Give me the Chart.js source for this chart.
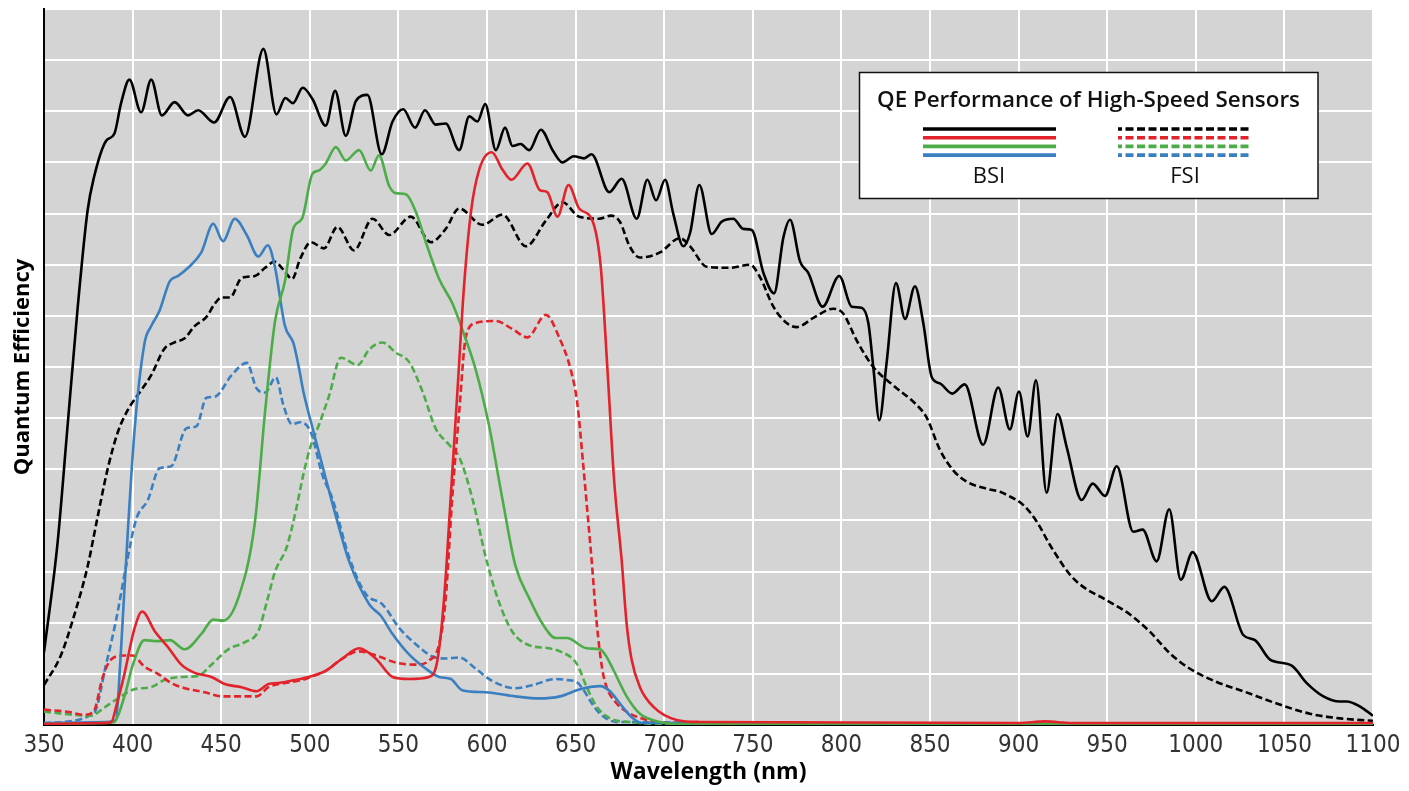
<!DOCTYPE html>
<html>
<head>
<meta charset="utf-8">
<script src="https://cdn.jsdelivr.net/npm/chart.js@4.4.1/dist/chart.umd.min.js"></script>
<style>
  html, body { margin: 0; padding: 0; background: #fff; }
  #wrap { width: 1409px; height: 791px; }
</style>
</head>
<body>
<div id="wrap"><canvas id="qeChart" width="1409" height="791"></canvas></div>
<script>
// wavelength (nm) / quantum efficiency (%) pairs
const bsiBlack = [
  [350, 7.1], [357.6, 17.7], [363, 28.6], [369, 40.8], [374.6, 50.3], [378, 53.4], [385, 57.1],
  [389.7, 57.8], [393.5, 60.8], [398.2, 63.1], [404.8, 59.9], [410.5, 63.1], [416.5, 59.6],
  [423.7, 60.9], [431.3, 59.6], [437, 60.1], [446, 58.9], [455, 61.4], [463.4, 57.5],
  [473.8, 66.1], [481.2, 59.7], [486.2, 61.3], [490.5, 60.8], [496, 62.3], [501.5, 61.2],
  [509, 58.6], [514.3, 62.0], [520.3, 57.6], [526, 61.0], [532.5, 61.6], [540.6, 55.8],
  [546.7, 59.0], [552.7, 60.2], [559.4, 58.4], [565, 60.1], [571, 58.7], [576.7, 58.8],
  [584.3, 56.2], [590, 59.5], [594.6, 59.0], [599, 60.7], [605, 56.2], [610.2, 58.4],
  [614.4, 56.6], [619, 56.8], [623.8, 56.2], [630.4, 58.2], [637, 56.2], [642.6, 55.0],
  [649, 55.6], [654.8, 55.4], [659, 55.8], [669, 52.1], [676, 53.4], [684.5, 49.5],
  [690.5, 53.3], [695.4, 51.3], [700.5, 53.3], [705.1, 50.0], [710.8, 46.8], [714.6, 48.1],
  [719.8, 52.8], [726.8, 48.0], [732.4, 49.2], [739, 49.5], [744.6, 48.5], [749.4, 48.4],
  [756, 44.2], [762, 42.2], [767.3, 47.7], [771, 49.4], [776.7, 45.3], [781.3, 44.2],
  [789.4, 40.9], [798.8, 43.9], [805.8, 40.9], [811.4, 40.8], [815.2, 39.3], [818, 35.0],
  [821.4, 29.8], [825.5, 35.4], [830.8, 43.2], [835.9, 39.7], [841.5, 42.9], [846.2, 39.3],
  [851, 34.0], [855.6, 33.4], [862.6, 32.4], [869.6, 33.3], [880, 27.4], [888.5, 33.0],
  [895.1, 28.9], [900.2, 32.6], [905.1, 28.2], [909.8, 33.7], [915.8, 22.7], [922, 30.4],
  [927.1, 27.2], [935.6, 22.0], [941.8, 23.6], [948.8, 22.4], [955.4, 25.3], [964.7, 18.9],
  [970, 19.1], [977.9, 16.0], [985, 21.1], [991.5, 14.2], [998.2, 16.9], [1009, 12.1],
  [1016.1, 13.5], [1026.8, 8.8], [1033.4, 8.3], [1041.9, 6.4], [1054.1, 5.8], [1062.6, 4.1],
  [1072, 2.8], [1081.4, 2.3], [1085.2, 2.3], [1092.7, 1.8], [1100, 0.9]
];

const bsiRed = [
  [350, 0.1], [383, 0.2], [388, 0.3], [391, 2.0], [395.4, 5.0], [401, 9.4], [405.4, 11.1],
  [412.4, 9.2], [420, 7.6], [427.5, 5.9], [435, 5.1], [444.5, 4.7], [452, 4.0], [461.5, 3.7],
  [470, 3.3], [476.7, 4.0], [482.3, 4.1], [491.8, 4.4], [501.2, 4.8], [509, 5.3], [518.4, 6.5],
  [527.8, 7.5], [537.2, 6.5], [546.7, 4.7], [556, 4.5], [567.3, 4.7], [572, 6.3], [575.8, 12.4],
  [579.6, 22.5], [583.3, 32.6], [587, 42.8], [590.9, 50.1], [595.6, 54.3], [602.7, 56.0],
  [608.7, 54.3], [613.8, 53.3], [622.8, 54.9], [629.8, 52.3], [634, 52.1], [639.8, 49.7],
  [646, 52.8], [652, 50.5], [659.5, 49.3], [664.2, 44.8], [668, 34.7], [671.7, 24.0],
  [676, 16.1], [678.8, 9.9], [681.6, 6.4], [686.3, 3.7], [693.8, 1.8], [707, 0.5], [720, 0.3],
  [900, 0.2], [915, 0.35], [930, 0.2], [1100, 0.2]
];

const bsiGreen = [
  [350, 0.1], [385, 0.2], [389.7, 0.3], [395.4, 2.8], [400, 5.8], [406.7, 8.3], [414, 8.2],
  [421, 8.3], [429.4, 7.4], [438.8, 8.9], [445.5, 10.3], [451, 10.2], [459.6, 12.4], [469, 19.8],
  [474.8, 30.7], [480.4, 39.5], [486, 43.4], [490.8, 48.6], [495.6, 49.5], [501.5, 53.9],
  [505, 54.2], [509, 54.9], [514.7, 56.5], [520.3, 55.2], [527.8, 56.2], [534.4, 54.2],
  [539, 55.7], [544.8, 52.7], [548.5, 52.0], [554.2, 51.9], [560, 50.1], [565.5, 47.2],
  [573, 43.6], [580.5, 41.2], [586, 38.7], [593.7, 34.7], [601, 29.4], [608.7, 22.1],
  [616, 15.6], [623.8, 12.4], [631.3, 9.9], [638.8, 8.5], [645, 8.5], [656.3, 7.5],
  [663.8, 7.4], [667, 6.8], [671.3, 5.4], [678.8, 2.8], [686.3, 1.1], [697.6, 0.3],
  [710, 0.1], [1100, 0.1]
];

const bsiBlue = [
  [350, 0.2], [385, 0.3], [390.6, 0.5], [393, 6.0], [395.4, 13.3], [401, 28.6], [406.7, 37.3],
  [410.5, 39.0], [415.2, 40.5], [421, 43.4], [425.6, 43.9], [431.3, 44.7], [438.8, 46.2],
  [445.5, 49.0], [451, 47.3], [457.7, 49.5], [464.4, 47.9], [471, 45.8], [476.3, 46.9],
  [480.4, 44.7], [486, 39.0], [490.8, 37.3], [494, 34.8], [496.5, 32.5], [501, 29.4],
  [509, 24.1], [516.5, 19.3], [522.2, 16.0], [533.5, 11.8], [540, 10.7], [546.7, 8.9],
  [556, 6.9], [565.5, 5.5], [573, 4.7], [579.6, 4.5], [586, 3.4], [599.3, 3.2], [616, 2.8],
  [629.4, 2.6], [641.2, 2.8], [652.5, 3.5], [663.8, 3.8], [669.4, 3.3], [675, 2.1],
  [681.4, 0.8], [687, 0.2], [1100, 0.05]
];

const fsiBlack = [
  [350, 3.9], [359.5, 6.8], [367, 10.7], [374.6, 15.5], [380.2, 20.3], [386, 25.1], [391.6, 28.6],
  [397.3, 30.8], [403.9, 32.5], [410.5, 34.2], [418, 36.8], [423.7, 37.4], [429.4, 37.8],
  [435, 39.0], [441.7, 39.9], [446.4, 41.2], [450.2, 41.8], [455, 41.8], [461.5, 43.7],
  [469, 43.9], [474.8, 44.7], [480, 45.3], [485.2, 44.5], [490, 43.6], [494.6, 45.6],
  [500.6, 47.2], [508, 46.6], [515.6, 48.7], [525, 46.4], [535.4, 49.5], [544.8, 47.9],
  [557, 49.7], [568.3, 47.2], [576.7, 48.5], [584.3, 50.5], [597.4, 48.9], [608.7, 49.9],
  [622, 46.8], [633.2, 49.3], [642.6, 51.1], [652, 49.7], [663.3, 49.5], [670, 49.8],
  [675, 49.2], [680.5, 46.8], [686.3, 45.7], [697.6, 46.2], [708.9, 47.6], [714.6, 46.8],
  [724, 44.8], [737.1, 44.7], [748.4, 45.0], [754, 43.8], [761.6, 40.9], [769.1, 39.3],
  [774.8, 38.9], [784.2, 39.8], [795.4, 40.7], [801.1, 40.2], [808.6, 37.6], [818, 35.0],
  [829.3, 33.2], [842.4, 31.3], [848, 30.1], [855.6, 26.9], [863.1, 24.9], [870.6, 23.8],
  [881.9, 23.1], [889.5, 22.8], [893.3, 22.5], [902.7, 21.5], [910.2, 19.9], [917.7, 17.6],
  [929, 14.7], [936.5, 13.5], [949.7, 12.2], [962.9, 10.8], [974.2, 9.1], [985.4, 7.0],
  [996.7, 5.5], [1011.8, 4.2], [1026.8, 3.3], [1045.7, 2.1], [1064.4, 1.1], [1081.4, 0.65],
  [1100, 0.4]
];

const fsiRed = [
  [350, 1.5], [363, 1.3], [372.7, 1.0], [378, 1.3], [383, 4.6], [387.8, 6.4], [395.4, 6.8],
  [400, 6.8], [406.7, 5.7], [414.3, 5.0], [421.8, 4.1], [429.4, 3.6], [440.7, 3.2], [450.2, 2.8],
  [459.6, 2.8], [470, 2.8], [476.7, 3.7], [486, 4.1], [495.6, 4.4], [502, 4.8], [509, 5.3],
  [518.4, 6.5], [527.8, 7.2], [539, 6.7], [548.5, 6.1], [560, 5.9], [567.3, 6.3], [573, 7.9],
  [576.7, 12.4], [580.5, 22.5], [584.3, 30.6], [588, 37.9], [593.7, 39.3], [605, 39.5],
  [614.4, 38.7], [622.8, 37.9], [633.2, 40.1], [640.7, 37.9], [647.3, 34.7], [651, 31.4],
  [654, 26.0], [657.6, 19.0], [659.1, 16.0], [661.9, 10.0], [665, 5.5], [667.5, 3.7],
  [672.7, 2.2], [678.8, 1.3], [690, 0.5], [700, 0.2], [1100, 0.1]
];

const fsiGreen = [
  [350, 1.3], [376.5, 0.9], [384, 1.7], [393.5, 2.8], [401, 3.5], [410.5, 3.7], [418, 4.4],
  [427.5, 4.7], [437, 4.8], [444.5, 5.9], [454, 7.4], [463.4, 8.1], [471, 9.2], [475.7, 12.0],
  [480.4, 15.0], [487, 17.4], [491.8, 20.7], [496.5, 24.6], [500, 27.0], [505.3, 29.4],
  [510.9, 32.2], [517.5, 35.9], [527, 35.2], [533.5, 36.7], [541, 37.4], [548.5, 36.4],
  [556, 35.5], [563.6, 32.6], [571, 29.0], [578.6, 27.4], [584.3, 26.2], [591.8, 22.1],
  [599.3, 16.4], [606.8, 12.0], [614.4, 9.1], [623.8, 7.8], [635, 7.5], [641.2, 7.2],
  [650.6, 6.0], [656.3, 3.7], [661.9, 1.8], [669.4, 0.65], [680.2, 0.3], [700, 0.1], [1100, 0.1]
];

const fsiBlue = [
  [350, 0.2], [378, 1.1], [385, 5.9], [390.6, 10.2], [396.3, 15.5], [402, 20.1], [408.6, 22.0],
  [415.2, 25.1], [421.8, 25.3], [430.3, 29.0], [436, 29.2], [441.7, 32.0], [446.4, 32.1],
  [455.9, 34.2], [464.4, 35.4], [470, 32.9], [474.8, 32.5], [480.8, 34.0], [485.2, 31.2],
  [490, 29.4], [494.6, 29.6], [500.6, 28.6], [507, 24.5], [512.8, 22.1], [522.2, 16.4],
  [531.6, 12.8], [541, 11.8], [550.4, 9.5], [559.8, 7.9], [569.2, 6.7], [576.7, 6.5],
  [584.3, 6.6], [593.7, 5.5], [603, 4.3], [616, 3.6], [625.7, 3.9], [638.8, 4.5], [645, 4.4],
  [650.6, 4.2], [655, 3.3], [658.1, 2.4], [663.8, 1.1], [673.1, 0.3], [1100, 0.05]
];

const legendTitle = "QE Performance of High-Speed Sensors";
const legendGroups = ["BSI", "FSI"];

const colors = {
  black: "#000000",
  red: "#e3232b",
  green: "#4cad48",
  blue: "#3a7fc0",
};

const TITLE_FONT = "'Open Sans', Roboto, sans-serif";
const TICK_FONT = "'Liberation Sans Narrow', 'DejaVu Sans Condensed', Roboto, sans-serif";

function toPoints(pairs) {
  return pairs.map(([x, y]) => ({ x, y }));
}

function series(label, pairs, color, dashed) {
  return {
    label,
    data: toPoints(pairs),
    borderColor: color,
    borderWidth: 2.6,
    borderDash: dashed ? [7, 3.5] : [],
    pointRadius: 0,
    fill: false,
    cubicInterpolationMode: "monotone",
  };
}

const plotBackground = {
  id: "plotBackground",
  beforeDraw(chart) {
    const { ctx, chartArea } = chart;
    ctx.save();
    ctx.fillStyle = "#d4d4d4";
    ctx.fillRect(chartArea.left, chartArea.top, chartArea.right - chartArea.left, chartArea.bottom - chartArea.top);
    ctx.restore();
  },
};

// the reference uses a boxed key with stacked swatches, so it is drawn by hand
const boxedLegend = {
  id: "boxedLegend",
  afterDraw(chart) {
    const { ctx } = chart;
    const lineColors = [colors.black, colors.red, colors.green, colors.blue];
    ctx.save();
    ctx.fillStyle = "#ffffff";
    ctx.fillRect(859, 72, 459, 127);
    ctx.strokeStyle = "#111";
    ctx.lineWidth = 1.5;
    ctx.strokeRect(859.5, 72.5, 458.5, 126);

    ctx.fillStyle = "#111";
    ctx.textAlign = "center";
    ctx.textBaseline = "alphabetic";
    ctx.font = `600 22.4px ${TITLE_FONT}`;
    ctx.fillText(legendTitle, 1088.5, 107);

    ctx.lineWidth = 3.6;
    lineColors.forEach((color, i) => {
      const y = 129 + i * 8.7;
      ctx.strokeStyle = color;
      ctx.setLineDash([]);
      ctx.beginPath();
      ctx.moveTo(923, y);
      ctx.lineTo(1056, y);
      ctx.stroke();

      ctx.setLineDash([8, 3.5]);
      ctx.lineDashOffset = 4;
      ctx.beginPath();
      ctx.moveTo(1118, y);
      ctx.lineTo(1252, y);
      ctx.stroke();
    });

    ctx.setLineDash([]);
    ctx.font = `400 22px ${TITLE_FONT}`;
    ctx.fillText(legendGroups[0], 989, 183);
    ctx.fillText(legendGroups[1], 1185, 183);
    ctx.restore();
  },
};

new Chart(document.querySelector("#qeChart"), {
  type: "line",
  data: {
    datasets: [
      series("BSI mono", bsiBlack, colors.black, false),
      series("BSI red", bsiRed, colors.red, false),
      series("BSI green", bsiGreen, colors.green, false),
      series("BSI blue", bsiBlue, colors.blue, false),
      series("FSI mono", fsiBlack, colors.black, true),
      series("FSI red", fsiRed, colors.red, true),
      series("FSI green", fsiGreen, colors.green, true),
      series("FSI blue", fsiBlue, colors.blue, true),
    ],
  },
  options: {
    responsive: false,
    animation: false,
    devicePixelRatio: 1,
    layout: { padding: { top: 9, right: 36, left: 0, bottom: 0 } },
    plugins: {
      legend: { display: false },
      tooltip: { enabled: false },
    },
    scales: {
      x: {
        type: "linear",
        min: 350,
        max: 1100,
        afterFit: (scale) => { scale.height = 66; },
        ticks: {
          stepSize: 50,
          color: "#333",
          padding: 6,
          maxRotation: 0,
          callback: (value) => String(value),
          font: { family: TICK_FONT, size: 24 },
        },
        grid: { color: "#ffffff", lineWidth: 2, drawTicks: false },
        border: { color: "#000", width: 2 },
        title: {
          display: true,
          text: "Wavelength (nm)",
          color: "#000",
          font: { family: TITLE_FONT, size: 23, weight: "bold" },
          padding: { top: 0, bottom: 5 },
        },
      },
      y: {
        min: 0,
        max: 70,
        afterFit: (scale) => { scale.width = 44; },
        ticks: { stepSize: 5, display: false },
        grid: { color: "#ffffff", lineWidth: 2, drawTicks: false },
        border: { color: "#000", width: 2 },
        title: {
          display: true,
          text: "Quantum Efficiency",
          color: "#000",
          font: { family: TITLE_FONT, size: 22, weight: "bold" },
          padding: { top: 10, bottom: 0 },
        },
      },
    },
  },
  plugins: [plotBackground, boxedLegend],
});
</script>
</body>
</html>
